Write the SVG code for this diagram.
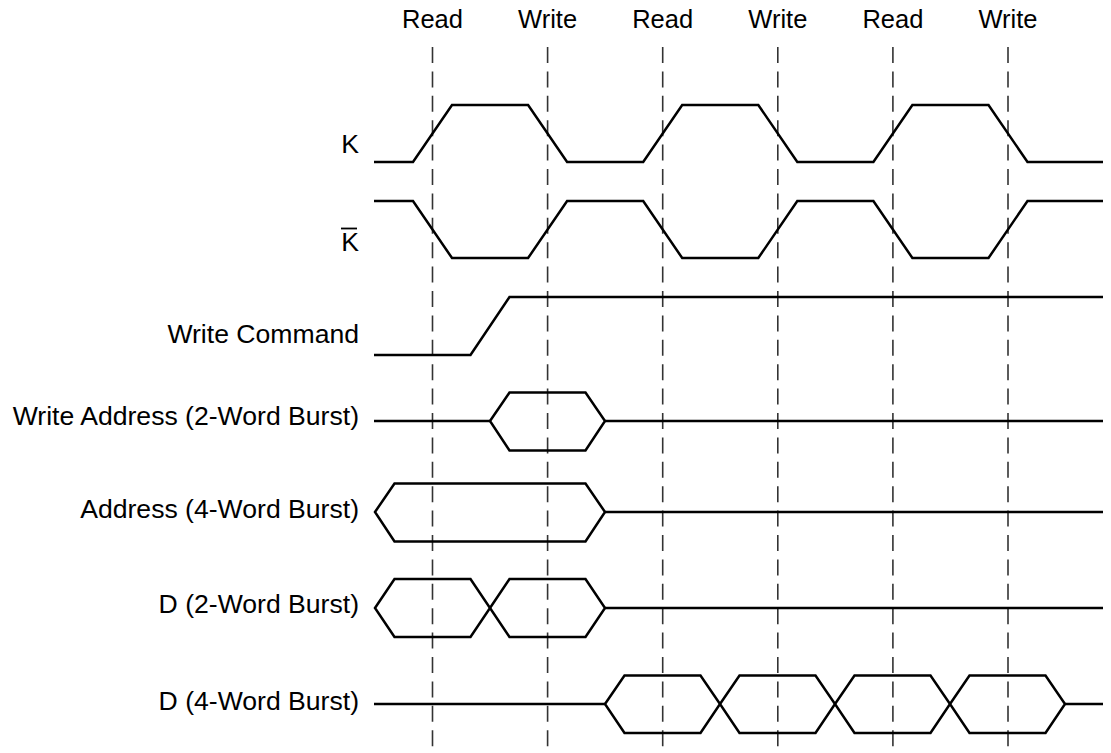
<svg xmlns="http://www.w3.org/2000/svg" width="1111" height="753" viewBox="0 0 1111 753">
<style>
  text { font-family: "Liberation Sans", Arial, Helvetica, sans-serif; font-size: 25.5px; fill: #000; }
  .lbl { text-anchor: end; font-size: 26.6px; }
  .top { text-anchor: middle; }
  .sig { fill: none; stroke: #000; stroke-width: 2.5; stroke-linejoin: miter; stroke-linecap: butt; }
  .grid { stroke: #333; stroke-width: 1.6; stroke-dasharray: 16 8.4; }
</style>
<rect width="1111" height="753" fill="#fff"/>

<g id="cycle-labels">
  <text class="top" x="432.5" y="28">Read</text>
  <text class="top" x="547.6" y="28">Write</text>
  <text class="top" x="662.7" y="28">Read</text>
  <text class="top" x="777.8" y="28">Write</text>
  <text class="top" x="892.9" y="28">Read</text>
  <text class="top" x="1008" y="28">Write</text>
</g>

<g id="gridlines">
  <line class="grid" x1="432.5" y1="47" x2="432.5" y2="753"/>
  <line class="grid" x1="547.6" y1="47" x2="547.6" y2="753"/>
  <line class="grid" x1="662.7" y1="47" x2="662.7" y2="753"/>
  <line class="grid" x1="777.8" y1="47" x2="777.8" y2="753"/>
  <line class="grid" x1="892.9" y1="47" x2="892.9" y2="753"/>
  <line class="grid" x1="1008" y1="47" x2="1008" y2="753"/>
</g>

<g id="sig-K">
  <text class="lbl" x="359" y="153">K</text>
  <path class="sig" d="M374,162 L413,162 L452,105 L528.1,105 L567.1,162 L643.2,162 L682.2,105 L758.3,105 L797.3,162 L873.4,162 L912.4,105 L988.5,105 L1027.5,162 L1103,162"/>
</g>

<g id="sig-Kbar">
  <text class="lbl" x="359" y="251">K</text>
  <line x1="341" y1="228.5" x2="357" y2="228.5" stroke="#000" stroke-width="1.8"/>
  <path class="sig" d="M374,201 L413,201 L452,258 L528.1,258 L567.1,201 L643.2,201 L682.2,258 L758.3,258 L797.3,201 L873.4,201 L912.4,258 L988.5,258 L1027.5,201 L1103,201"/>
</g>

<g id="sig-write-command">
  <text class="lbl" x="359" y="343">Write Command</text>
  <path class="sig" d="M374,355 L470.5,355 L509.5,297 L1103,297"/>
</g>

<g id="sig-write-address">
  <text class="lbl" x="359" y="425">Write Address (2-Word Burst)</text>
  <path class="sig" d="M374,421 L490,421 M605,421 L1103,421"/>
  <polygon class="sig" points="490,421 509.5,392.5 585.5,392.5 605,421 585.5,450.5 509.5,450.5"/>
</g>

<g id="sig-address-4">
  <text class="lbl" x="359" y="518">Address (4-Word Burst)</text>
  <polygon class="sig" points="375,512 394.5,483.5 585.5,483.5 605,512 585.5,541.5 394.5,541.5"/>
  <path class="sig" d="M605,512 L1103,512"/>
</g>

<g id="sig-d-2">
  <text class="lbl" x="359" y="613">D (2-Word Burst)</text>
  <polygon class="sig" points="375,608 394.5,579 470.5,579 490,608 470.5,637 394.5,637"/>
  <polygon class="sig" points="490,608 509.5,579 585.5,579 605,608 585.5,637 509.5,637"/>
  <path class="sig" d="M605,608 L1103,608"/>
</g>

<g id="sig-d-4">
  <text class="lbl" x="359" y="710">D (4-Word Burst)</text>
  <path class="sig" d="M374,704 L605,704 M1065,704 L1103,704"/>
  <polygon class="sig" points="605,704 624.5,675.5 700.5,675.5 720,704 700.5,733 624.5,733"/>
  <polygon class="sig" points="720,704 739.5,675.5 815.5,675.5 835,704 815.5,733 739.5,733"/>
  <polygon class="sig" points="835,704 854.5,675.5 930.5,675.5 950,704 930.5,733 854.5,733"/>
  <polygon class="sig" points="950,704 969.5,675.5 1045.5,675.5 1065,704 1045.5,733 969.5,733"/>
</g>
</svg>
